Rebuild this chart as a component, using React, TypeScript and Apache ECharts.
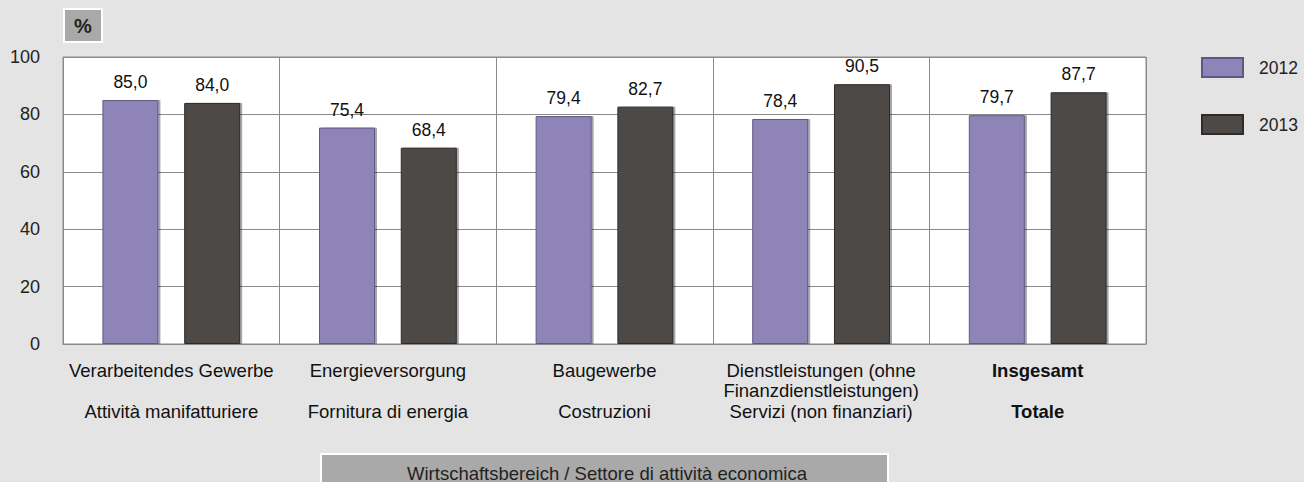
import React, { useEffect, useRef } from "react";
import * as echarts from "echarts";

const categories = [
  "Verarbeitendes Gewerbe\n\nAttività manifatturiere",
  "Energieversorgung\n\nFornitura di energia",
  "Baugewerbe\n\nCostruzioni",
  "Dienstleistungen (ohne\nFinanzdienstleistungen)\nServizi (non finanziari)",
  "Insgesamt\n\nTotale",
];
const seriesNames = ["2012", "2013"];
const values2012 = [85.0, 75.4, 79.4, 78.4, 79.7];
const values2013 = [84.0, 68.4, 82.7, 90.5, 87.7];
const yTicks = { min: 0, max: 100, interval: 20 };
const unitLabel = "%";
const xTitle = "Wirtschaftsbereich / Settore di attività economica";

const FONT = "Liberation Sans, Arial, sans-serif";

export default function App() {
  const ref = useRef<HTMLDivElement>(null);
  useEffect(() => {
    document.body.style.margin = "0";
    const chart = echarts.init(ref.current!, null, { renderer: "svg" });
    const fmt = (p: any) => Number(p.value).toFixed(1).replace(".", ",");
    chart.setOption({
      animation: false,
      backgroundColor: "#e4e4e4",
      textStyle: { fontFamily: FONT },
      grid: {
        left: 63,
        right: 158,
        top: 57,
        bottom: 138,
        show: true,
        backgroundColor: "#ffffff",
        borderColor: "#8a8a8a",
        borderWidth: 1,
      },
      legend: {
        orient: "vertical",
        left: 1201,
        top: 57,
        padding: 0,
        itemWidth: 41,
        itemHeight: 19,
        itemGap: 36,
        icon: "rect",
        textStyle: { fontFamily: FONT, fontSize: 17.5, color: "#222", padding: [0, 0, 0, 11] },
        data: seriesNames,
      },
      xAxis: {
        type: "category",
        data: categories,
        axisLine: { show: true, lineStyle: { color: "#8a8a8a" } },
        axisTick: { show: false },
        splitLine: { show: true, interval: 0, lineStyle: { color: "#8a8a8a", width: 1 } },
        axisLabel: {
          interval: 0,
          margin: 16,
          fontFamily: FONT,
          fontSize: 18.5,
          lineHeight: 20.5,
          color: "#111",
          formatter: (v: string, i: number) => {
            if (i === categories.length - 1) {
              return v
                .split("\n")
                .map((s) => (s ? "{b|" + s + "}" : ""))
                .join("\n");
            }
            return v;
          },
          rich: {
            b: { fontWeight: "bold", fontFamily: FONT, fontSize: 18.5, lineHeight: 20.5, color: "#111" },
          },
        },
      },
      yAxis: {
        type: "value",
        min: yTicks.min,
        max: yTicks.max,
        interval: yTicks.interval,
        axisLine: { show: false },
        axisTick: { show: false },
        splitLine: { show: true, lineStyle: { color: "#8a8a8a", width: 1 } },
        axisLabel: { margin: 23, fontFamily: FONT, fontSize: 18, color: "#222" },
      },
      series: [
        {
          name: seriesNames[0],
          type: "bar",
          data: values2012,
          barWidth: 56,
          barGap: "46%",
          itemStyle: {
            color: "#8e84b8",
            borderColor: "#5f5886",
            borderWidth: 1,
            shadowColor: "rgba(0,0,0,0.35)",
            shadowOffsetX: 2,
            shadowOffsetY: 0,
            shadowBlur: 1,
          },
          label: { show: true, position: "top", distance: 9, formatter: fmt, fontFamily: FONT, fontSize: 17.5, color: "#111" },
        },
        {
          name: seriesNames[1],
          type: "bar",
          data: values2013,
          barWidth: 56,
          itemStyle: {
            color: "#4d4947",
            borderColor: "#2e2b2a",
            borderWidth: 1,
            shadowColor: "rgba(0,0,0,0.35)",
            shadowOffsetX: 2,
            shadowOffsetY: 0,
            shadowBlur: 1,
          },
          label: { show: true, position: "top", distance: 9, formatter: fmt, fontFamily: FONT, fontSize: 17.5, color: "#111" },
        },
      ],
      graphic: [
        {
          type: "group",
          left: 63,
          top: 8,
          children: [
            { type: "rect", shape: { x: 0, y: 0, width: 38, height: 33 }, style: { fill: "#a9a9a9", stroke: "#ffffff", lineWidth: 2 } },
            {
              type: "text",
              x: 19,
              y: 17,
              style: { text: unitLabel, fontFamily: FONT, fontSize: 20, fontWeight: "bold", fill: "#222", align: "center", verticalAlign: "middle" },
            },
          ],
        },
        {
          type: "group",
          left: 320,
          top: 453,
          children: [
            { type: "rect", shape: { x: 0, y: 0, width: 567, height: 40 }, style: { fill: "#a9a9a9", stroke: "#ffffff", lineWidth: 2 } },
            {
              type: "text",
              x: 286,
              y: 19,
              style: { text: xTitle, fontFamily: FONT, fontSize: 18.5, fill: "#222", align: "center", verticalAlign: "middle" },
            },
          ],
        },
      ],
    });
    return () => chart.dispose();
  }, []);
  return <div ref={ref} style={{ width: 1304, height: 482 }} />;
}
